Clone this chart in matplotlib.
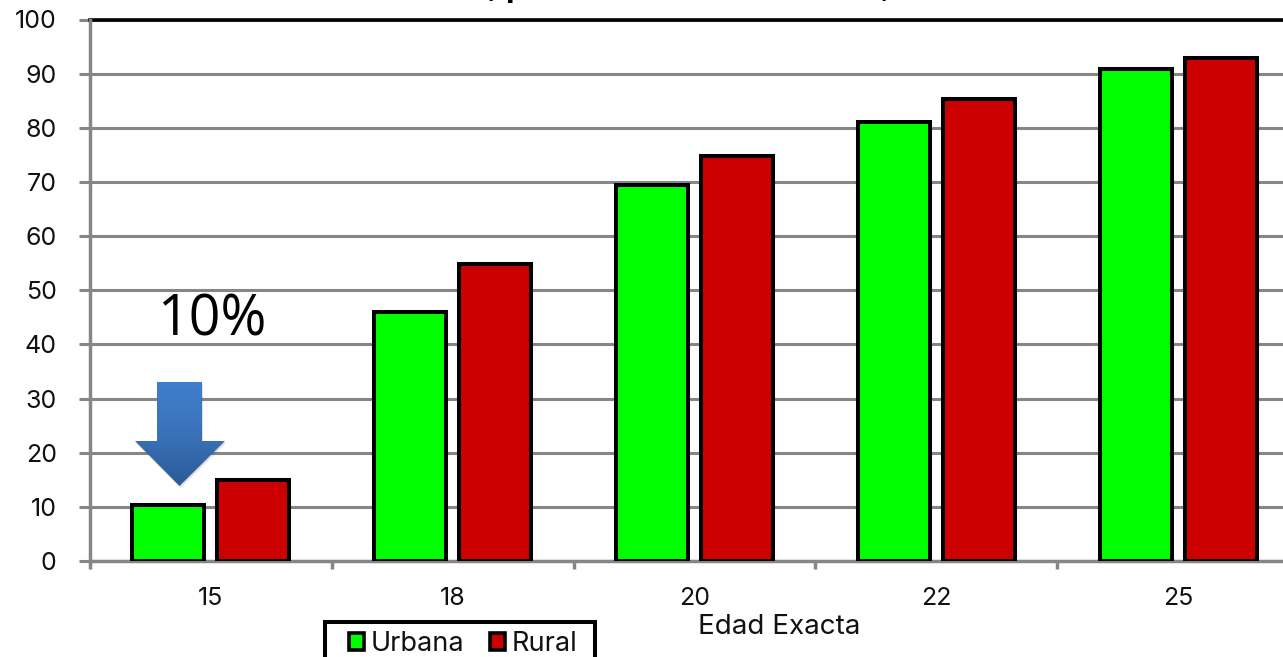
import matplotlib
matplotlib.use("Agg")
import matplotlib.pyplot as plt
import numpy as np
from matplotlib.patches import Patch, Polygon, Rectangle
from matplotlib.colors import LinearSegmentedColormap

ages = ["15", "18", "20", "22", "25"]
urbana = [10.4, 46, 69.5, 81, 90.9]
rural = [14.9, 54.8, 74.8, 85.3, 92.9]
y_ticks = list(range(0, 101, 10))

W, H = 1283, 657
GRAY = "#868686"
INK = "#111111"
plt.rcParams["font.family"] = ["Inter", "DejaVu Sans"]

fig = plt.figure(figsize=(W / 100, H / 100), dpi=100, facecolor="white")
# The plot area runs past the right edge of the canvas
ax = fig.add_axes([90 / W, (H - 561) / H, 1209 / W, 541.5 / H])
ax.set_xlim(-0.5, 4.5)
ax.set_ylim(0, 100)
ax.set_axisbelow(True)

ax.yaxis.grid(True, color=GRAY, lw=2.2)
ax.xaxis.grid(False)
for side in ("top", "right"):
    ax.spines[side].set_visible(False)
for side in ("left", "bottom"):
    ax.spines[side].set_color(GRAY)
    ax.spines[side].set_linewidth(2.5)
ax.axhline(100, color="black", lw=2.6, clip_on=False, zorder=1)

x = np.arange(len(ages))
bar_kw = dict(width=0.298, edgecolor="black", linewidth=2.9, zorder=3)
ax.bar(x - 0.176, urbana, color="#00FF00", **bar_kw)
ax.bar(x + 0.176, rural, color="#CC0000", **bar_kw)

ax.set_yticks(y_ticks)
ax.set_xticks(np.arange(-0.5, 5), minor=False)
ax.set_xticklabels([])
ax.set_xticks(x, ages, minor=True)
ax.tick_params(axis="x", which="major", length=6, width=2.5, color=GRAY)
ax.tick_params(axis="x", which="minor", length=0, pad=19, labelsize=18, labelcolor=INK)
ax.tick_params(axis="y", length=8, width=2.2, color=GRAY, pad=16, labelsize=18, labelcolor=INK)

fig.text(779 / W, 1 - 627 / H, "Edad Exacta", ha="center", va="center",
         fontsize=20, color=INK)

# Title line sits almost entirely above the canvas; only the descenders show
fig.text(487 / W, 1 + 4 / H, ", p", ha="left", va="baseline", fontsize=24,
         fontweight="bold", family="Liberation Sans", color="black")
fig.text(880 / W, 1 + 4 / H, ",", ha="left", va="baseline", fontsize=24,
         fontweight="bold", family="Liberation Sans", color="black")

# Legend frame continues below the canvas
fig.add_artist(Rectangle((325 / W, -20 / H), 270 / W, (H - 622 + 20) / H, fill=False,
                         edgecolor="black", linewidth=2.9, transform=fig.transFigure))
handles = [Patch(facecolor="#00FF00", edgecolor="black", linewidth=2.6, label="Urbana"),
           Patch(facecolor="#CC0000", edgecolor="black", linewidth=2.6, label="Rural")]
fig.legend(handles=handles, ncol=2, loc="center left",
           bbox_to_anchor=(349 / W, 1 - 644 / H), bbox_transform=fig.transFigure,
           fontsize=19.5, frameon=False,
           handlelength=0.55, handleheight=0.55, handletextpad=0.25,
           columnspacing=0.95, borderpad=0, borderaxespad=0, labelcolor=INK)

fig.text(212 / W, 1 - 321 / H, "10%", ha="center", va="center", fontsize=40,
         family="Open Sans", color="black", zorder=6)

# Down arrow with a vertical blue gradient, on a pixel-based overlay
over = fig.add_axes([0, 0, 1, 1], facecolor="none", zorder=5)
over.set_xlim(0, W)
over.set_ylim(H, 0)
over.axis("off")
shape = [(157, 382), (202, 382), (202, 441), (225, 441), (179.5, 486), (135, 441), (157, 441)]
over.add_patch(Polygon([(a + 1, b + 2) for a, b in shape], closed=True,
                       fc="#000000", alpha=0.12, ec="none"))
cmap = LinearSegmentedColormap.from_list("arrow_blue", ["#3F7FCF", "#3A72B8", "#2A5A98"])
img = over.imshow(np.linspace(0, 1, 256)[:, None], cmap=cmap, extent=(135, 225, 486, 382),
                  aspect="auto", zorder=2)
clip = Polygon(shape, closed=True, transform=over.transData, fc="none", ec="none")
over.add_patch(clip)
img.set_clip_path(clip)
over.set_xlim(0, W)
over.set_ylim(H, 0)

fig.savefig("out.png", dpi=100)
